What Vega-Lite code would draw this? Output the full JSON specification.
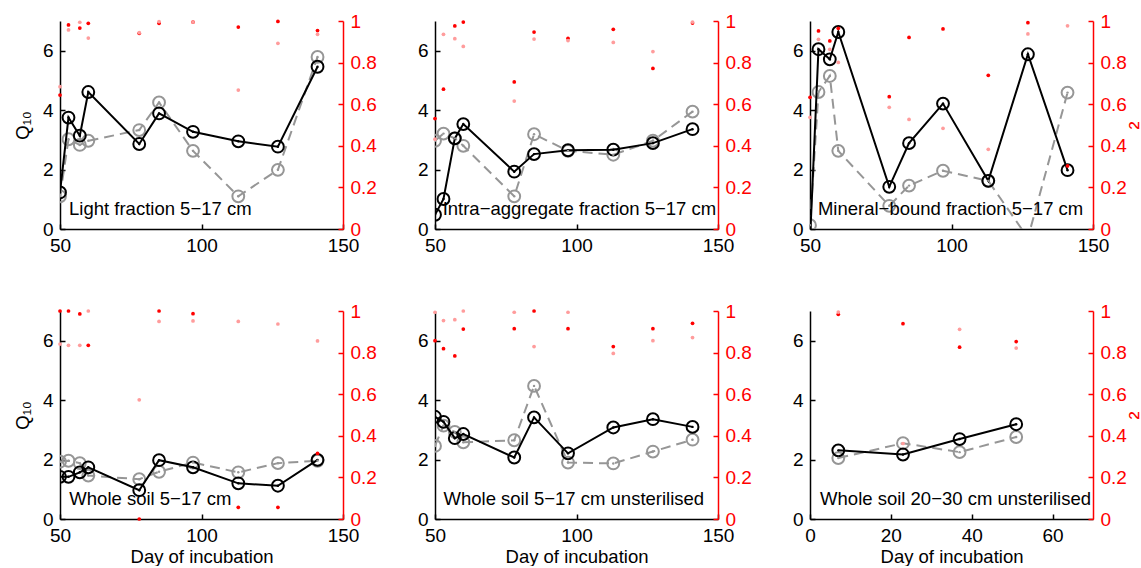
{
  "$schema": "https://vega.github.io/schema/vega-lite/v6.json",
  "padding": {"left": 13, "top": 12, "right": 0, "bottom": 0},
  "config": {
    "view": {"stroke": null},
    "font": "Liberation Sans",
    "axis": {"grid": false, "labelFlush": false, "labelOverlap": false, "domainColor": "black", "domainWidth": 1.5, "tickColor": "black", "tickWidth": 1.5, "tickSize": -5, "labelPadding": 12, "labelFont": "Liberation Sans", "labelFontSize": 19, "labelColor": "black", "titleFont": "Liberation Sans", "titleFontSize": 18.5, "titleFontWeight": "normal", "titleColor": "black"},
    "text": {"font": "Liberation Sans", "fontSize": 18.5}
  },
  "datasets": {
    "q": [
      {"p":1,"d":50,"s":"a","q":1.23,"r":0.644},{"p":1,"d":53,"s":"a","q":3.75,"r":0.981},{"p":1,"d":57,"s":"a","q":3.14,"r":0.966},{"p":1,"d":60,"s":"a","q":4.61,"r":0.989},{"p":1,"d":78,"s":"a","q":2.86,"r":0.941},{"p":1,"d":85,"s":"a","q":3.89,"r":0.989},{"p":1,"d":97,"s":"a","q":3.27,"r":0.995},{"p":1,"d":113,"s":"a","q":2.95,"r":0.971},{"p":1,"d":127,"s":"a","q":2.77,"r":0.998},{"p":1,"d":141,"s":"a","q":5.46,"r":0.954},
      {"p":1,"d":50,"s":"b","q":1.10,"r":0.684},{"p":1,"d":53,"s":"b","q":3.02,"r":0.957},{"p":1,"d":57,"s":"b","q":2.83,"r":0.994},{"p":1,"d":60,"s":"b","q":2.97,"r":0.918},{"p":1,"d":78,"s":"b","q":3.33,"r":0.944},{"p":1,"d":85,"s":"b","q":4.26,"r":0.997},{"p":1,"d":97,"s":"b","q":2.63,"r":0.995},{"p":1,"d":113,"s":"b","q":1.10,"r":0.668},{"p":1,"d":127,"s":"b","q":1.99,"r":0.893},{"p":1,"d":141,"s":"b","q":5.79,"r":0.936},
      {"p":2,"d":50,"s":"a","q":0.48,"r":0.531},{"p":2,"d":53,"s":"a","q":1.01,"r":0.672},{"p":2,"d":57,"s":"a","q":3.05,"r":0.976},{"p":2,"d":60,"s":"a","q":3.53,"r":0.995},{"p":2,"d":78,"s":"a","q":1.93,"r":0.707},{"p":2,"d":85,"s":"a","q":2.52,"r":0.947},{"p":2,"d":97,"s":"a","q":2.65,"r":0.917},{"p":2,"d":113,"s":"a","q":2.67,"r":0.96},{"p":2,"d":127,"s":"a","q":2.89,"r":0.772},{"p":2,"d":141,"s":"a","q":3.36,"r":0.99},
      {"p":2,"d":50,"s":"b","q":2.97,"r":0.432},{"p":2,"d":53,"s":"b","q":3.21,"r":0.936},{"p":2,"d":57,"s":"b","q":3.05,"r":0.915},{"p":2,"d":60,"s":"b","q":2.80,"r":0.878},{"p":2,"d":78,"s":"b","q":1.10,"r":0.615},{"p":2,"d":85,"s":"b","q":3.19,"r":0.913},{"p":2,"d":97,"s":"b","q":2.63,"r":0.906},{"p":2,"d":113,"s":"b","q":2.50,"r":0.897},{"p":2,"d":127,"s":"b","q":2.97,"r":0.853},{"p":2,"d":141,"s":"b","q":3.95,"r":0.995},
      {"p":3,"d":50,"s":"a","q":-0.4,"r":0.633},{"p":3,"d":53,"s":"a","q":6.05,"r":0.952},{"p":3,"d":57,"s":"a","q":5.71,"r":0.904},{"p":3,"d":60,"s":"a","q":6.63,"r":0.965},{"p":3,"d":78,"s":"a","q":1.42,"r":0.636},{"p":3,"d":85,"s":"a","q":2.89,"r":0.921},{"p":3,"d":97,"s":"a","q":4.22,"r":0.962},{"p":3,"d":113,"s":"a","q":1.62,"r":0.739},{"p":3,"d":127,"s":"a","q":5.88,"r":0.992},{"p":3,"d":141,"s":"a","q":1.98,"r":0.303},
      {"p":3,"d":50,"s":"b","q":0.13,"r":0.537},{"p":3,"d":53,"s":"b","q":4.61,"r":0.912},{"p":3,"d":57,"s":"b","q":5.15,"r":0.864},{"p":3,"d":60,"s":"b","q":2.63,"r":0.801},{"p":3,"d":78,"s":"b","q":0.78,"r":0.585},{"p":3,"d":85,"s":"b","q":1.46,"r":0.527},{"p":3,"d":97,"s":"b","q":1.96,"r":0.484},{"p":3,"d":113,"s":"b","q":1.62,"r":0.383},{"p":3,"d":127,"s":"b","q":-0.3,"r":0.938},{"p":3,"d":141,"s":"b","q":4.59,"r":0.977},
      {"p":4,"d":50,"s":"a","q":1.42,"r":1.0},{"p":4,"d":53,"s":"a","q":1.42,"r":1.0},{"p":4,"d":57,"s":"a","q":1.57,"r":0.986},{"p":4,"d":60,"s":"a","q":1.74,"r":0.835},{"p":4,"d":78,"s":"a","q":0.97,"r":0.0},{"p":4,"d":85,"s":"a","q":1.98,"r":1.0},{"p":4,"d":97,"s":"a","q":1.74,"r":0.987},{"p":4,"d":113,"s":"a","q":1.20,"r":0.056},{"p":4,"d":127,"s":"a","q":1.12,"r":0.056},{"p":4,"d":141,"s":"a","q":1.99,"r":0.315},
      {"p":4,"d":50,"s":"b","q":1.93,"r":0.841},{"p":4,"d":53,"s":"b","q":1.96,"r":0.835},{"p":4,"d":57,"s":"b","q":1.88,"r":0.835},{"p":4,"d":60,"s":"b","q":1.46,"r":1.0},{"p":4,"d":78,"s":"b","q":1.34,"r":0.573},{"p":4,"d":85,"s":"b","q":1.59,"r":0.95},{"p":4,"d":97,"s":"b","q":1.90,"r":0.952},{"p":4,"d":113,"s":"b","q":1.57,"r":0.95},{"p":4,"d":127,"s":"b","q":1.88,"r":0.9375},{"p":4,"d":141,"s":"b","q":1.96,"r":0.856},
      {"p":5,"d":50,"s":"a","q":3.44,"r":0.857},{"p":5,"d":53,"s":"a","q":3.27,"r":0.819},{"p":5,"d":57,"s":"a","q":2.72,"r":0.784},{"p":5,"d":60,"s":"a","q":2.86,"r":0.913},{"p":5,"d":78,"s":"a","q":2.07,"r":0.915},{"p":5,"d":85,"s":"a","q":3.42,"r":1.0},{"p":5,"d":97,"s":"a","q":2.21,"r":0.915},{"p":5,"d":113,"s":"a","q":3.08,"r":0.829},{"p":5,"d":127,"s":"a","q":3.36,"r":0.915},{"p":5,"d":141,"s":"a","q":3.10,"r":0.941},
      {"p":5,"d":50,"s":"b","q":2.46,"r":0.994},{"p":5,"d":53,"s":"b","q":3.14,"r":0.954},{"p":5,"d":57,"s":"b","q":2.93,"r":0.958},{"p":5,"d":60,"s":"b","q":2.58,"r":1.0},{"p":5,"d":78,"s":"b","q":2.65,"r":0.994},{"p":5,"d":85,"s":"b","q":4.48,"r":0.829},{"p":5,"d":97,"s":"b","q":1.90,"r":0.994},{"p":5,"d":113,"s":"b","q":1.87,"r":0.796},{"p":5,"d":127,"s":"b","q":2.27,"r":0.857},{"p":5,"d":141,"s":"b","q":2.67,"r":0.872},
      {"p":6,"d":7,"s":"a","q":2.31,"r":0.984},{"p":6,"d":23,"s":"a","q":2.17,"r":0.939},{"p":6,"d":37,"s":"a","q":2.69,"r":0.826},{"p":6,"d":51,"s":"a","q":3.19,"r":0.853},
      {"p":6,"d":7,"s":"b","q":2.05,"r":0.995},{"p":6,"d":23,"s":"b","q":2.55,"r":0.363},{"p":6,"d":37,"s":"b","q":2.25,"r":0.912},{"p":6,"d":51,"s":"b","q":2.76,"r":0.822}
    ]
  },
  "columns": 3,
  "spacing": {"row": 82, "column": 92},
  "bounds": "flush",
  "concat": [
    {
      "width": 283, "height": 208,
      "layer": [
        {
          "data": {"name": "q"},
          "layer": [
            {"transform": [{"filter": "datum.p == 1 && datum.s == 'b'"}], "mark": {"type": "line", "color": "#969696", "strokeWidth": 2, "strokeDash": [10, 6], "clip": true},
             "encoding": {"x": {"field": "d", "type": "quantitative", "scale": {"domain": [50, 150], "nice": false, "zero": false}, "axis": {"values": [50, 100, 150], "title": null}},
                          "y": {"field": "q", "type": "quantitative", "scale": {"domain": [0, 7], "nice": false}, "axis": {"values": [0, 2, 4, 6], "title": "Q₁₀", "titlePadding": 10}}}},
            {"transform": [{"filter": "datum.p == 1 && datum.s == 'b'"}], "mark": {"type": "point", "shape": "circle", "filled": false, "color": "#969696", "strokeWidth": 2, "size": 140, "opacity": 1, "clip": true},
             "encoding": {"x": {"field": "d", "type": "quantitative"}, "y": {"field": "q", "type": "quantitative"}}},
            {"transform": [{"filter": "datum.p == 1 && datum.s == 'a'"}], "mark": {"type": "line", "color": "black", "strokeWidth": 2, "clip": true},
             "encoding": {"x": {"field": "d", "type": "quantitative"}, "y": {"field": "q", "type": "quantitative"}}},
            {"transform": [{"filter": "datum.p == 1 && datum.s == 'a'"}], "mark": {"type": "point", "shape": "circle", "filled": false, "color": "black", "strokeWidth": 2, "size": 140, "opacity": 1, "clip": true},
             "encoding": {"x": {"field": "d", "type": "quantitative"}, "y": {"field": "q", "type": "quantitative"}}},
            {"transform": [{"filter": "datum.p == 1"}], "mark": {"type": "point", "shape": "circle", "filled": true, "size": 6, "opacity": 1, "clip": true},
             "encoding": {"x": {"field": "d", "type": "quantitative"}, "y": {"field": "q", "type": "quantitative"}, "fill": {"condition": {"test": "datum.s == 'a'", "value": "black"}, "value": "#969696"}}},
            {"data": {"values": [{"t": "Light fraction 5−17 cm"}]}, "mark": {"type": "text", "align": "left", "baseline": "middle", "color": "black"},
             "encoding": {"x": {"datum": 53.2, "type": "quantitative"}, "y": {"datum": 0.67, "type": "quantitative"}, "text": {"field": "t"}}}
          ]
        },
        {
          "data": {"name": "q"},
          "transform": [{"filter": "datum.p == 1"}],
          "mark": {"type": "point", "shape": "circle", "filled": true, "size": 14, "opacity": 1},
          "encoding": {"x": {"field": "d", "type": "quantitative"},
                       "y": {"field": "r", "type": "quantitative", "scale": {"domain": [0, 1], "nice": false}, "axis": {"orient": "right", "values": [0, 0.2, 0.4, 0.6, 0.8, 1], "format": "~g", "title": null, "domainColor": "red", "tickColor": "red", "labelColor": "red"}},
                       "color": {"field": "s", "type": "nominal", "scale": {"domain": ["a", "b"], "range": ["#ff0000", "#ff9c9c"]}, "legend": null}}
        }
      ],
      "resolve": {"scale": {"y": "independent"}}
    },
    {
      "width": 283, "height": 208,
      "layer": [
        {
          "data": {"name": "q"},
          "layer": [
            {"transform": [{"filter": "datum.p == 2 && datum.s == 'b'"}], "mark": {"type": "line", "color": "#969696", "strokeWidth": 2, "strokeDash": [10, 6], "clip": true},
             "encoding": {"x": {"field": "d", "type": "quantitative", "scale": {"domain": [50, 150], "nice": false, "zero": false}, "axis": {"values": [50, 100, 150], "title": null}},
                          "y": {"field": "q", "type": "quantitative", "scale": {"domain": [0, 7], "nice": false}, "axis": {"values": [0, 2, 4, 6], "title": null}}}},
            {"transform": [{"filter": "datum.p == 2 && datum.s == 'b'"}], "mark": {"type": "point", "shape": "circle", "filled": false, "color": "#969696", "strokeWidth": 2, "size": 140, "opacity": 1, "clip": true},
             "encoding": {"x": {"field": "d", "type": "quantitative"}, "y": {"field": "q", "type": "quantitative"}}},
            {"transform": [{"filter": "datum.p == 2 && datum.s == 'a'"}], "mark": {"type": "line", "color": "black", "strokeWidth": 2, "clip": true},
             "encoding": {"x": {"field": "d", "type": "quantitative"}, "y": {"field": "q", "type": "quantitative"}}},
            {"transform": [{"filter": "datum.p == 2 && datum.s == 'a'"}], "mark": {"type": "point", "shape": "circle", "filled": false, "color": "black", "strokeWidth": 2, "size": 140, "opacity": 1, "clip": true},
             "encoding": {"x": {"field": "d", "type": "quantitative"}, "y": {"field": "q", "type": "quantitative"}}},
            {"transform": [{"filter": "datum.p == 2"}], "mark": {"type": "point", "shape": "circle", "filled": true, "size": 6, "opacity": 1, "clip": true},
             "encoding": {"x": {"field": "d", "type": "quantitative"}, "y": {"field": "q", "type": "quantitative"}, "fill": {"condition": {"test": "datum.s == 'a'", "value": "black"}, "value": "#969696"}}},
            {"data": {"values": [{"t": "Intra−aggregate fraction 5−17 cm"}]}, "mark": {"type": "text", "align": "left", "baseline": "middle", "color": "black"},
             "encoding": {"x": {"datum": 52.7, "type": "quantitative"}, "y": {"datum": 0.67, "type": "quantitative"}, "text": {"field": "t"}}}
          ]
        },
        {
          "data": {"name": "q"},
          "transform": [{"filter": "datum.p == 2"}],
          "mark": {"type": "point", "shape": "circle", "filled": true, "size": 14, "opacity": 1},
          "encoding": {"x": {"field": "d", "type": "quantitative"},
                       "y": {"field": "r", "type": "quantitative", "scale": {"domain": [0, 1], "nice": false}, "axis": {"orient": "right", "values": [0, 0.2, 0.4, 0.6, 0.8, 1], "format": "~g", "title": null, "domainColor": "red", "tickColor": "red", "labelColor": "red"}},
                       "color": {"field": "s", "type": "nominal", "scale": {"domain": ["a", "b"], "range": ["#ff0000", "#ff9c9c"]}, "legend": null}}
        }
      ],
      "resolve": {"scale": {"y": "independent"}}
    },
    {
      "width": 283, "height": 208,
      "layer": [
        {
          "data": {"name": "q"},
          "layer": [
            {"transform": [{"filter": "datum.p == 3 && datum.s == 'b'"}], "mark": {"type": "line", "color": "#969696", "strokeWidth": 2, "strokeDash": [10, 6], "clip": true},
             "encoding": {"x": {"field": "d", "type": "quantitative", "scale": {"domain": [50, 150], "nice": false, "zero": false}, "axis": {"values": [50, 100, 150], "title": null}},
                          "y": {"field": "q", "type": "quantitative", "scale": {"domain": [0, 7], "nice": false}, "axis": {"values": [0, 2, 4, 6], "title": null}}}},
            {"transform": [{"filter": "datum.p == 3 && datum.s == 'b'"}], "mark": {"type": "point", "shape": "circle", "filled": false, "color": "#969696", "strokeWidth": 2, "size": 140, "opacity": 1, "clip": true},
             "encoding": {"x": {"field": "d", "type": "quantitative"}, "y": {"field": "q", "type": "quantitative"}}},
            {"transform": [{"filter": "datum.p == 3 && datum.s == 'a'"}], "mark": {"type": "line", "color": "black", "strokeWidth": 2, "clip": true},
             "encoding": {"x": {"field": "d", "type": "quantitative"}, "y": {"field": "q", "type": "quantitative"}}},
            {"transform": [{"filter": "datum.p == 3 && datum.s == 'a'"}], "mark": {"type": "point", "shape": "circle", "filled": false, "color": "black", "strokeWidth": 2, "size": 140, "opacity": 1, "clip": true},
             "encoding": {"x": {"field": "d", "type": "quantitative"}, "y": {"field": "q", "type": "quantitative"}}},
            {"transform": [{"filter": "datum.p == 3"}], "mark": {"type": "point", "shape": "circle", "filled": true, "size": 6, "opacity": 1, "clip": true},
             "encoding": {"x": {"field": "d", "type": "quantitative"}, "y": {"field": "q", "type": "quantitative"}, "fill": {"condition": {"test": "datum.s == 'a'", "value": "black"}, "value": "#969696"}}},
            {"data": {"values": [{"t": "Mineral−bound fraction 5−17 cm"}]}, "mark": {"type": "text", "align": "left", "baseline": "middle", "color": "black"},
             "encoding": {"x": {"datum": 52.8, "type": "quantitative"}, "y": {"datum": 0.67, "type": "quantitative"}, "text": {"field": "t"}}}
          ]
        },
        {
          "data": {"name": "q"},
          "transform": [{"filter": "datum.p == 3"}],
          "mark": {"type": "point", "shape": "circle", "filled": true, "size": 14, "opacity": 1},
          "encoding": {"x": {"field": "d", "type": "quantitative"},
                       "y": {"field": "r", "type": "quantitative", "scale": {"domain": [0, 1], "nice": false}, "axis": {"orient": "right", "values": [0, 0.2, 0.4, 0.6, 0.8, 1], "format": "~g", "title": "²", "titleColor": "red", "titleAngle": 270, "titleBaseline": "top", "titleFontSize": 24, "titlePadding": 0, "domainColor": "red", "tickColor": "red", "labelColor": "red"}},
                       "color": {"field": "s", "type": "nominal", "scale": {"domain": ["a", "b"], "range": ["#ff0000", "#ff9c9c"]}, "legend": null}}
        }
      ],
      "resolve": {"scale": {"y": "independent"}}
    },
    {
      "width": 283, "height": 208,
      "layer": [
        {
          "data": {"name": "q"},
          "layer": [
            {"transform": [{"filter": "datum.p == 4 && datum.s == 'b'"}], "mark": {"type": "line", "color": "#969696", "strokeWidth": 2, "strokeDash": [10, 6], "clip": true},
             "encoding": {"x": {"field": "d", "type": "quantitative", "scale": {"domain": [50, 150], "nice": false, "zero": false}, "axis": {"values": [50, 100, 150], "title": "Day of incubation", "titlePadding": 2}},
                          "y": {"field": "q", "type": "quantitative", "scale": {"domain": [0, 7], "nice": false}, "axis": {"values": [0, 2, 4, 6], "title": "Q₁₀", "titlePadding": 10}}}},
            {"transform": [{"filter": "datum.p == 4 && datum.s == 'b'"}], "mark": {"type": "point", "shape": "circle", "filled": false, "color": "#969696", "strokeWidth": 2, "size": 140, "opacity": 1, "clip": true},
             "encoding": {"x": {"field": "d", "type": "quantitative"}, "y": {"field": "q", "type": "quantitative"}}},
            {"transform": [{"filter": "datum.p == 4 && datum.s == 'a'"}], "mark": {"type": "line", "color": "black", "strokeWidth": 2, "clip": true},
             "encoding": {"x": {"field": "d", "type": "quantitative"}, "y": {"field": "q", "type": "quantitative"}}},
            {"transform": [{"filter": "datum.p == 4 && datum.s == 'a'"}], "mark": {"type": "point", "shape": "circle", "filled": false, "color": "black", "strokeWidth": 2, "size": 140, "opacity": 1, "clip": true},
             "encoding": {"x": {"field": "d", "type": "quantitative"}, "y": {"field": "q", "type": "quantitative"}}},
            {"transform": [{"filter": "datum.p == 4"}], "mark": {"type": "point", "shape": "circle", "filled": true, "size": 6, "opacity": 1, "clip": true},
             "encoding": {"x": {"field": "d", "type": "quantitative"}, "y": {"field": "q", "type": "quantitative"}, "fill": {"condition": {"test": "datum.s == 'a'", "value": "black"}, "value": "#969696"}}},
            {"data": {"values": [{"t": "Whole soil 5−17 cm"}]}, "mark": {"type": "text", "align": "left", "baseline": "middle", "color": "black"},
             "encoding": {"x": {"datum": 53.3, "type": "quantitative"}, "y": {"datum": 0.67, "type": "quantitative"}, "text": {"field": "t"}}}
          ]
        },
        {
          "data": {"name": "q"},
          "transform": [{"filter": "datum.p == 4"}],
          "mark": {"type": "point", "shape": "circle", "filled": true, "size": 14, "opacity": 1},
          "encoding": {"x": {"field": "d", "type": "quantitative"},
                       "y": {"field": "r", "type": "quantitative", "scale": {"domain": [0, 1], "nice": false}, "axis": {"orient": "right", "values": [0, 0.2, 0.4, 0.6, 0.8, 1], "format": "~g", "title": null, "domainColor": "red", "tickColor": "red", "labelColor": "red"}},
                       "color": {"field": "s", "type": "nominal", "scale": {"domain": ["a", "b"], "range": ["#ff0000", "#ff9c9c"]}, "legend": null}}
        }
      ],
      "resolve": {"scale": {"y": "independent"}}
    },
    {
      "width": 283, "height": 208,
      "layer": [
        {
          "data": {"name": "q"},
          "layer": [
            {"transform": [{"filter": "datum.p == 5 && datum.s == 'b'"}], "mark": {"type": "line", "color": "#969696", "strokeWidth": 2, "strokeDash": [10, 6], "clip": true},
             "encoding": {"x": {"field": "d", "type": "quantitative", "scale": {"domain": [50, 150], "nice": false, "zero": false}, "axis": {"values": [50, 100, 150], "title": "Day of incubation", "titlePadding": 2}},
                          "y": {"field": "q", "type": "quantitative", "scale": {"domain": [0, 7], "nice": false}, "axis": {"values": [0, 2, 4, 6], "title": null}}}},
            {"transform": [{"filter": "datum.p == 5 && datum.s == 'b'"}], "mark": {"type": "point", "shape": "circle", "filled": false, "color": "#969696", "strokeWidth": 2, "size": 140, "opacity": 1, "clip": true},
             "encoding": {"x": {"field": "d", "type": "quantitative"}, "y": {"field": "q", "type": "quantitative"}}},
            {"transform": [{"filter": "datum.p == 5 && datum.s == 'a'"}], "mark": {"type": "line", "color": "black", "strokeWidth": 2, "clip": true},
             "encoding": {"x": {"field": "d", "type": "quantitative"}, "y": {"field": "q", "type": "quantitative"}}},
            {"transform": [{"filter": "datum.p == 5 && datum.s == 'a'"}], "mark": {"type": "point", "shape": "circle", "filled": false, "color": "black", "strokeWidth": 2, "size": 140, "opacity": 1, "clip": true},
             "encoding": {"x": {"field": "d", "type": "quantitative"}, "y": {"field": "q", "type": "quantitative"}}},
            {"transform": [{"filter": "datum.p == 5"}], "mark": {"type": "point", "shape": "circle", "filled": true, "size": 6, "opacity": 1, "clip": true},
             "encoding": {"x": {"field": "d", "type": "quantitative"}, "y": {"field": "q", "type": "quantitative"}, "fill": {"condition": {"test": "datum.s == 'a'", "value": "black"}, "value": "#969696"}}},
            {"data": {"values": [{"t": "Whole soil 5−17 cm unsterilised"}]}, "mark": {"type": "text", "align": "left", "baseline": "middle", "color": "black"},
             "encoding": {"x": {"datum": 53, "type": "quantitative"}, "y": {"datum": 0.67, "type": "quantitative"}, "text": {"field": "t"}}}
          ]
        },
        {
          "data": {"name": "q"},
          "transform": [{"filter": "datum.p == 5"}],
          "mark": {"type": "point", "shape": "circle", "filled": true, "size": 14, "opacity": 1},
          "encoding": {"x": {"field": "d", "type": "quantitative"},
                       "y": {"field": "r", "type": "quantitative", "scale": {"domain": [0, 1], "nice": false}, "axis": {"orient": "right", "values": [0, 0.2, 0.4, 0.6, 0.8, 1], "format": "~g", "title": null, "domainColor": "red", "tickColor": "red", "labelColor": "red"}},
                       "color": {"field": "s", "type": "nominal", "scale": {"domain": ["a", "b"], "range": ["#ff0000", "#ff9c9c"]}, "legend": null}}
        }
      ],
      "resolve": {"scale": {"y": "independent"}}
    },
    {
      "width": 283, "height": 208,
      "layer": [
        {
          "data": {"name": "q"},
          "layer": [
            {"transform": [{"filter": "datum.p == 6 && datum.s == 'b'"}], "mark": {"type": "line", "color": "#969696", "strokeWidth": 2, "strokeDash": [10, 6], "clip": true},
             "encoding": {"x": {"field": "d", "type": "quantitative", "scale": {"domain": [0, 70], "nice": false, "zero": false}, "axis": {"values": [0, 20, 40, 60], "title": "Day of incubation", "titlePadding": 2}},
                          "y": {"field": "q", "type": "quantitative", "scale": {"domain": [0, 7], "nice": false}, "axis": {"values": [0, 2, 4, 6], "title": null}}}},
            {"transform": [{"filter": "datum.p == 6 && datum.s == 'b'"}], "mark": {"type": "point", "shape": "circle", "filled": false, "color": "#969696", "strokeWidth": 2, "size": 140, "opacity": 1, "clip": true},
             "encoding": {"x": {"field": "d", "type": "quantitative"}, "y": {"field": "q", "type": "quantitative"}}},
            {"transform": [{"filter": "datum.p == 6 && datum.s == 'a'"}], "mark": {"type": "line", "color": "black", "strokeWidth": 2, "clip": true},
             "encoding": {"x": {"field": "d", "type": "quantitative"}, "y": {"field": "q", "type": "quantitative"}}},
            {"transform": [{"filter": "datum.p == 6 && datum.s == 'a'"}], "mark": {"type": "point", "shape": "circle", "filled": false, "color": "black", "strokeWidth": 2, "size": 140, "opacity": 1, "clip": true},
             "encoding": {"x": {"field": "d", "type": "quantitative"}, "y": {"field": "q", "type": "quantitative"}}},
            {"transform": [{"filter": "datum.p == 6"}], "mark": {"type": "point", "shape": "circle", "filled": true, "size": 6, "opacity": 1, "clip": true},
             "encoding": {"x": {"field": "d", "type": "quantitative"}, "y": {"field": "q", "type": "quantitative"}, "fill": {"condition": {"test": "datum.s == 'a'", "value": "black"}, "value": "#969696"}}},
            {"data": {"values": [{"t": "Whole soil 20−30 cm unsterilised"}]}, "mark": {"type": "text", "align": "left", "baseline": "middle", "color": "black"},
             "encoding": {"x": {"datum": 2.5, "type": "quantitative"}, "y": {"datum": 0.67, "type": "quantitative"}, "text": {"field": "t"}}}
          ]
        },
        {
          "data": {"name": "q"},
          "transform": [{"filter": "datum.p == 6"}],
          "mark": {"type": "point", "shape": "circle", "filled": true, "size": 14, "opacity": 1},
          "encoding": {"x": {"field": "d", "type": "quantitative"},
                       "y": {"field": "r", "type": "quantitative", "scale": {"domain": [0, 1], "nice": false}, "axis": {"orient": "right", "values": [0, 0.2, 0.4, 0.6, 0.8, 1], "format": "~g", "title": "²", "titleColor": "red", "titleAngle": 270, "titleBaseline": "top", "titleFontSize": 24, "titlePadding": 0, "domainColor": "red", "tickColor": "red", "labelColor": "red"}},
                       "color": {"field": "s", "type": "nominal", "scale": {"domain": ["a", "b"], "range": ["#ff0000", "#ff9c9c"]}, "legend": null}}
        }
      ],
      "resolve": {"scale": {"y": "independent"}}
    }
  ]
}
